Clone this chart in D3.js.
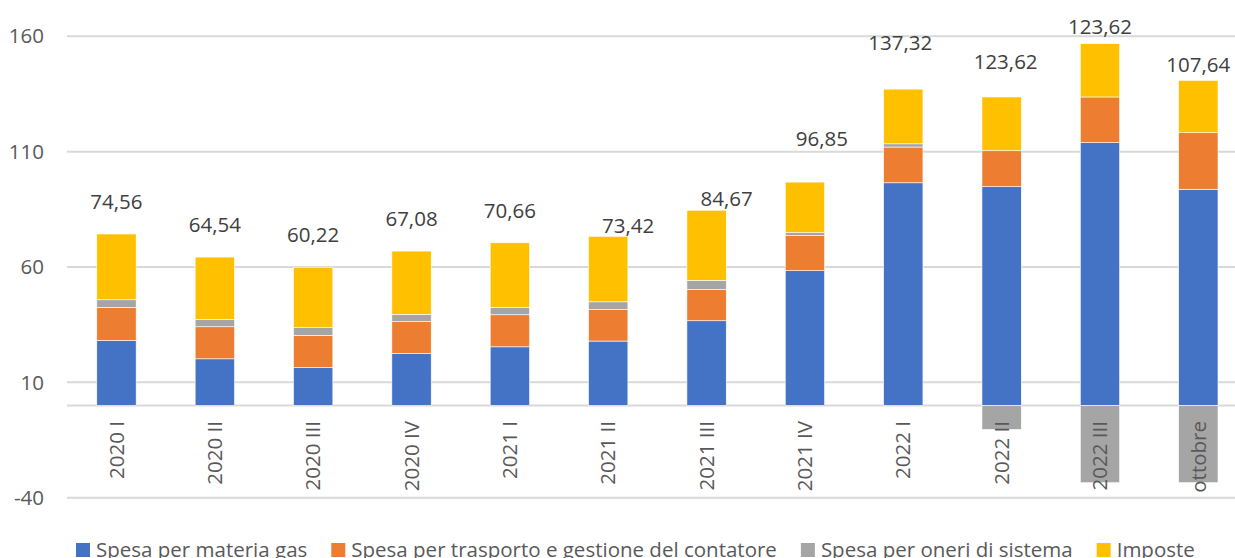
<!DOCTYPE html>
<html>
<head>
<meta charset="utf-8">
<script src="https://cdn.jsdelivr.net/npm/d3@7"></script>
<style>
  body { margin: 0; background: #fff; }
  svg { display: block; font-family: "Open Sans", "Noto Sans", sans-serif; }
</style>
</head>
<body>
<div id="chart-holder"></div>
<script>
// chart data
var categories = ["2020 I", "2020 II", "2020 III", "2020 IV", "2021 I", "2021 II",
  "2021 III", "2021 IV", "2022 I", "2022 II", "2022 III", "ottobre"];
var materiaGas = [28.2, 20.2, 16.5, 22.6, 25.4, 27.9, 36.7, 58.4, 96.5, 94.8, 113.9, 93.7];
var trasporto = [14.3, 13.9, 13.9, 13.7, 13.9, 13.7, 13.6, 15.2, 15.5, 15.6, 19.8, 24.5];
var oneri = [3.3, 3.2, 3.3, 3.2, 3.2, 3.3, 3.9, 1.3, 1.4, -10.4, -33.5, -33.5];
var imposte = [28.5, 27.0, 26.2, 27.4, 28.0, 28.4, 30.4, 21.9, 23.7, 23.3, 23.1, 22.7];
var totali = [74.56, 64.54, 60.22, 67.08, 70.66, 73.42, 84.67, 96.85, 137.32, 123.62, 123.62, 107.64];
var seriesNames = ["Spesa per materia gas", "Spesa per trasporto e gestione del contatore",
  "Spesa per oneri di sistema", "Imposte"];
var yTicks = [-40, 10, 60, 110, 160];

// layout
var width = 1235, height = 558;
var colors = ["#4472C4", "#ED7D31", "#A5A5A5", "#FFC000"];
// hand-placed data labels were nudged in the original, in px
var labelNudge = [[0, 0], [0, 0], [0, 0], [0, 0], [0, 0], [20, 22],
  [20, 21], [17, -11], [-3, -14], [4, -3], [0, 15], [0, 16]];

var svg = d3.select("#chart-holder").append("svg")
  .attr("width", width)
  .attr("height", height);

// build rows for the stack
var keys = ["gas", "trasporto", "oneri", "imposte"];
var rows = categories.map(function (c, i) {
  return { cat: c, gas: materiaGas[i], trasporto: trasporto[i], oneri: oneri[i], imposte: imposte[i] };
});

var x = d3.scaleBand()
  .domain(categories)
  .range([67.3, 1247.5])
  .paddingInner(0.6)
  .paddingOuter(0.3);

var y = d3.scaleLinear()
  .domain([-40, 160])
  .range([497.7, 36.3]);

// gridlines
svg.append("g")
  .selectAll("line")
  .data(yTicks.concat([0]))
  .enter()
  .append("line")
  .attr("x1", 67)
  .attr("x2", width)
  .attr("y1", function (d) { return y(d); })
  .attr("y2", function (d) { return y(d); })
  .attr("stroke", "#D9D9D9")
  .attr("stroke-width", 2);

// y tick labels
svg.append("g")
  .selectAll("text")
  .data(yTicks)
  .enter()
  .append("text")
  .attr("x", 44)
  .attr("y", function (d) { return y(d); })
  .attr("dy", "0.35em")
  .attr("text-anchor", "end")
  .attr("fill", "#595959")
  .style("font-size", "20.5px")
  .text(function (d) { return d; });

// stacked bars
var stack = d3.stack().keys(keys).offset(d3.stackOffsetDiverging);
var layers = stack(rows);

svg.append("g")
  .selectAll("g")
  .data(layers)
  .enter()
  .append("g")
  .attr("fill", function (d, i) { return colors[i]; })
  .selectAll("rect")
  .data(function (d) { return d; })
  .enter()
  .append("rect")
  .attr("x", function (d) { return x(d.data.cat); })
  .attr("width", x.bandwidth())
  .attr("y", function (d) { return y(Math.max(d[0], d[1])); })
  .attr("height", function (d) { return Math.abs(y(d[0]) - y(d[1])); })
  .attr("stroke", "#fff")
  .attr("stroke-width", 0.6);

// category labels, rotated, overlapping the negative bars like the original
svg.append("g")
  .selectAll("text")
  .data(categories)
  .enter()
  .append("text")
  .attr("transform", function (d) {
    return "translate(" + (x(d) + x.bandwidth() / 2) + ",421)rotate(-90)";
  })
  .attr("dy", "0.35em")
  .attr("text-anchor", "end")
  .attr("fill", "#595959")
  .style("font-size", "20.5px")
  .text(function (d) { return d; });

// total labels above the bars
var fmt = function (v) { return v.toFixed(2).replace(".", ","); };
svg.append("g")
  .selectAll("text")
  .data(rows)
  .enter()
  .append("text")
  .attr("x", function (d, i) { return x(d.cat) + x.bandwidth() / 2 + labelNudge[i][0]; })
  .attr("y", function (d, i) {
    var top = d.gas + d.trasporto + Math.max(d.oneri, 0) + d.imposte;
    return y(top) - 32 + labelNudge[i][1];
  })
  .attr("dy", "0.35em")
  .attr("text-anchor", "middle")
  .attr("fill", "#404040")
  .style("font-size", "20.5px")
  .text(function (d, i) { return fmt(totali[i]); });

// legend along the bottom
var legend = svg.append("g");
var lx = 76;
seriesNames.forEach(function (name, i) {
  legend.append("rect")
    .attr("x", lx)
    .attr("y", 543)
    .attr("width", 14)
    .attr("height", 14)
    .attr("fill", colors[i]);
  var t = legend.append("text")
    .attr("x", lx + 20)
    .attr("y", 557)
    .attr("fill", "#595959")
    .style("font-size", "20.5px")
    .text(name);
  lx += 20 + t.node().getComputedTextLength() + 24;
});
</script>
</body>
</html>
